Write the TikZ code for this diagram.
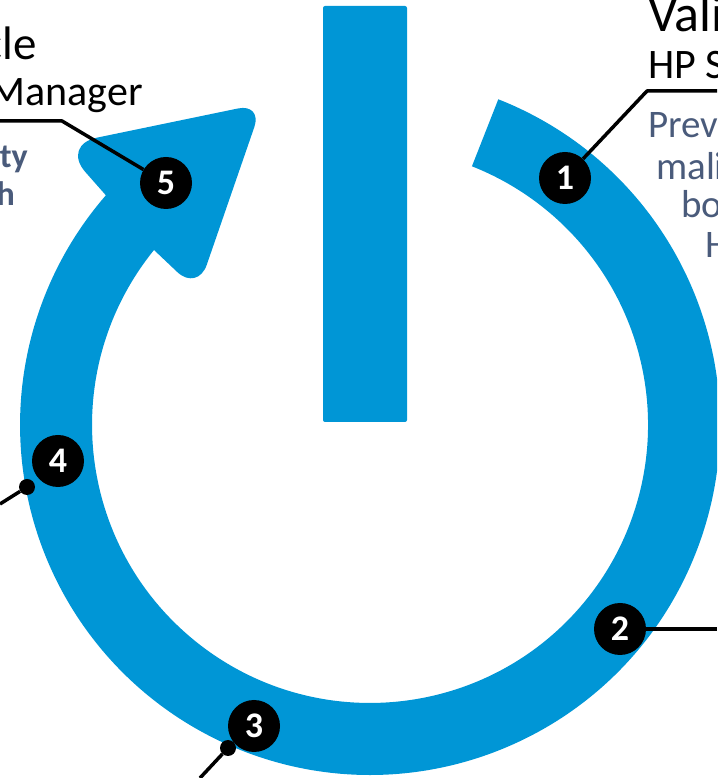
\documentclass[tikz,border=0pt]{standalone}
\usepackage{fontspec}
\setmainfont{Carlito}
\definecolor{ringblue}{HTML}{0096D6}
\definecolor{slateblue}{HTML}{4A5B7B}
\usetikzlibrary{arrows.meta, calc}
\tikzset{
	numdot/.style = {circle, fill = black, text = white, minimum size = 52pt, inner sep = 0pt, font = \fontsize{36}{36}\selectfont\bfseries},
	pindot/.style = {circle, fill = black, minimum size = 16pt, inner sep = 0pt},
	leader/.style = {line width = 3.5pt, color = black, line join = round},
	headtext/.style = {inner sep = 0pt, font = \fontsize{52}{52}\selectfont},
	subtext/.style = {inner sep = 0pt, font = \fontsize{42}{42}\selectfont},
	bodytext/.style = {inner sep = 0pt, text = slateblue, font = \fontsize{39}{39}\selectfont}
}

\begin{document}
\begin{tikzpicture}[x = 1pt, y = 1pt]
	\useasboundingbox (0, 0) rectangle (717, 778);
	\clip (0, 0) rectangle (717, 778);
	% ring with arrow head
	\fill[ringblue] (498.3, 678.7) arc[start angle = 68.5, end angle = -221, radius = 350]
		[rounded corners = 36pt] -- (61.5, 633) [rounded corners = 25pt] -- (262.5, 674.6) [rounded corners = 28pt] -- (197.6, 486.7) [sharp corners] -- (154, 528)
		arc[start angle = -219, end angle = 68.5, radius = 278] -- cycle;
	\fill[ringblue, rounded corners = 2pt] (323, 356) rectangle (407, 772);
	% texts
	\node[headtext, anchor = base west] at (648, 746) (titleone) {Vali};
	\node[subtext, anchor = base west] at (648, 699) (subone) {HP S};
	\node[bodytext, anchor = base west] at (648, 640) (bodyonea) {Prev};
	\node[bodytext, anchor = base west] at (656, 598) (bodyoneb) {mali};
	\node[bodytext, anchor = base west] at (681, 560) (bodyonec) {bo};
	\node[bodytext, anchor = base west] at (705, 520) (bodyoned) {H};
	\node[headtext, anchor = base east, font = \fontsize{47}{47}\selectfont] at (37, 718) (titlefive) {cle};
	\node[subtext, anchor = base east] at (143, 672) (subfive) {Manager};
	\node[bodytext, anchor = base east, font = \fontsize{34}{34}\selectfont\bfseries] at (28, 610) (bodyfivea) {ty};
	\node[bodytext, anchor = base east, font = \fontsize{34}{34}\selectfont\bfseries] at (15, 572) (bodyfiveb) {h};
	% numbered marks
	\node[numdot] at (565, 600) (one) {1};
	\node[numdot] at (620, 149) (two) {2};
	\node[numdot] at (254, 52) (three) {3};
	\node[numdot] at (58, 317) (four) {4};
	\node[numdot] at (166, 595) (five) {5};
	\node[pindot] at (228, 30) (pinthree) {};
	\node[pindot] at (27, 291) (pinfour) {};
	% leaders
	\coordinate (bendone) at (647, 687);
	\coordinate (endone) at (717, 687);
	\coordinate (endtwo) at (717, 149);
	\coordinate (endthree) at (200, 0);
	\coordinate (endfour) at (0, 274);
	\coordinate (bendfive) at (62, 657);
	\coordinate (endfive) at (0, 657);
	\draw[leader] (one) -- (bendone) -- (endone);
	\draw[leader] (two) -- (endtwo);
	\draw[leader] (pinthree) -- (endthree);
	\draw[leader] (pinfour) -- (endfour);
	\draw[leader] (five) -- (bendfive) -- (endfive);
\end{tikzpicture}
\end{document}
